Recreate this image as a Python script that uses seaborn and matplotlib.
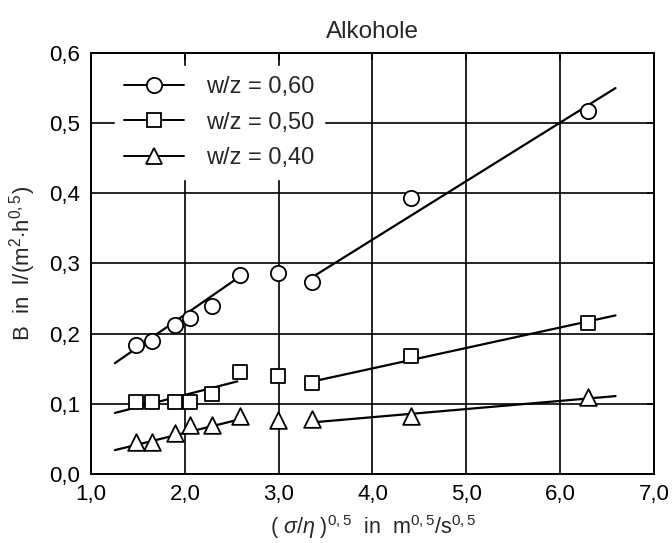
import numpy as np
import pandas as pd
import matplotlib
matplotlib.use("Agg")
import matplotlib.pyplot as plt
from matplotlib.lines import Line2D
from matplotlib.ticker import FuncFormatter
import seaborn as sns

# ---- data ----
x_vals = [1.475, 1.65, 1.89, 2.05, 2.29, 2.585, 2.99, 3.36, 4.41, 6.30]
b_060 = [0.184, 0.189, 0.213, 0.223, 0.240, 0.283, 0.287, 0.274, 0.393, 0.518]
b_050 = [0.102, 0.102, 0.102, 0.102, 0.114, 0.145, 0.140, 0.129, 0.168, 0.215]
b_040 = [0.046, 0.045, 0.058, 0.070, 0.070, 0.083, 0.077, 0.079, 0.083, 0.110]

# fitted line segments (x start, x end) and (y start, y end)
fit1_x = [1.255, 2.56]
fit2_x = [3.40, 6.59]
fit_060_1 = [0.158, 0.279]
fit_060_2 = [0.284, 0.550]
fit_050_1 = [0.087, 0.132]
fit_050_2 = [0.133, 0.226]
fit_040_1 = [0.034, 0.077]
fit_040_2 = [0.074, 0.111]

series_labels = ["w/z = 0,60", "w/z = 0,50", "w/z = 0,40"]
x_ticks = [1.0, 2.0, 3.0, 4.0, 5.0, 6.0, 7.0]
y_ticks = [0.0, 0.1, 0.2, 0.3, 0.4, 0.5, 0.6]
title = "Alkohole"

sns.set_style("white")
plt.rcParams["font.family"] = ["Liberation Sans", "DejaVu Sans"]
plt.rcParams["mathtext.fontset"] = "custom"
plt.rcParams["mathtext.rm"] = "Liberation Sans"
plt.rcParams["mathtext.it"] = "Liberation Sans:italic"

fig = plt.figure(figsize=(6.72, 5.43), dpi=100)
ax = fig.add_axes([0.1354, 0.1271, 0.8378, 0.7753])

points = pd.DataFrame({
    "x": x_vals * 3,
    "B": b_060 + b_050 + b_040,
    "serie": [series_labels[0]] * len(x_vals) + [series_labels[1]] * len(x_vals) + [series_labels[2]] * len(x_vals),
})
fits = []
for lab, s1, s2 in zip(series_labels, [fit_060_1, fit_050_1, fit_040_1], [fit_060_2, fit_050_2, fit_040_2]):
    fits.append(pd.DataFrame({"x": fit1_x, "B": s1, "seg": lab + "_1"}))
    fits.append(pd.DataFrame({"x": fit2_x, "B": s2, "seg": lab + "_2"}))
fits = pd.concat(fits, ignore_index=True)

# grid
ax.set_xlim(1.0, 7.0)
ax.set_ylim(0.0, 0.6)
ax.set_xticks(x_ticks)
ax.set_yticks(y_ticks)
ax.grid(True, color="black", linewidth=1.2)
ax.set_axisbelow(True)

# fit lines
sns.lineplot(data=fits, x="x", y="B", units="seg", estimator=None, color="black",
             linewidth=1.6, ax=ax, legend=False, zorder=2)

markers = {series_labels[0]: "o", series_labels[1]: "s", series_labels[2]: "^"}
sizes = {"o": 11, "s": 10, "^": 12}
for lab in series_labels:
    sub = points[points["serie"] == lab]
    m = markers[lab]
    sns.scatterplot(data=sub, x="x", y="B", marker=m, s=sizes[m] ** 2, facecolor="white",
                    edgecolor="black", linewidth=1.3, ax=ax, legend=False, zorder=3)

for sp in ax.spines.values():
    sp.set_color("black")
    sp.set_linewidth(1.4)

fmt = FuncFormatter(lambda v, p: f"{v:.1f}".replace(".", ","))
ax.xaxis.set_major_formatter(fmt)
ax.yaxis.set_major_formatter(fmt)
ax.tick_params(direction="in", length=5, width=1.2, top=True, right=True,
               labelsize=16, colors="black")
ax.tick_params(axis="x", pad=7)
ax.tick_params(axis="y", pad=8)

ax.set_xlabel(r"( $\mathit{\sigma/\eta}$ )$^{0,5}$  in  m$^{0,5}$/s$^{0,5}$", fontsize=15.5, labelpad=6)
ax.set_ylabel(r"B  in  l/(m$^2$$\cdot$h$^{0,5}$)", fontsize=16, labelpad=8)
ax.set_title(title, fontsize=17.5, pad=11)

handles = [Line2D([0], [0], color="black", linewidth=1.4, marker=markers[l], markersize=sizes[markers[l]],
                  markerfacecolor="white", markeredgecolor="black", markeredgewidth=1.3)
           for l in series_labels]
leg = ax.legend(handles, series_labels, loc="upper left", bbox_to_anchor=(0.042, 0.968), frameon=True,
                fontsize=17, handlelength=2.55, handletextpad=0.93, labelspacing=0.58,
                borderpad=0.4, borderaxespad=0.0, fancybox=False)
leg.get_frame().set_edgecolor("white")
leg.get_frame().set_facecolor("white")
leg.get_frame().set_alpha(1.0)

fig.savefig("out.png", dpi=100)
